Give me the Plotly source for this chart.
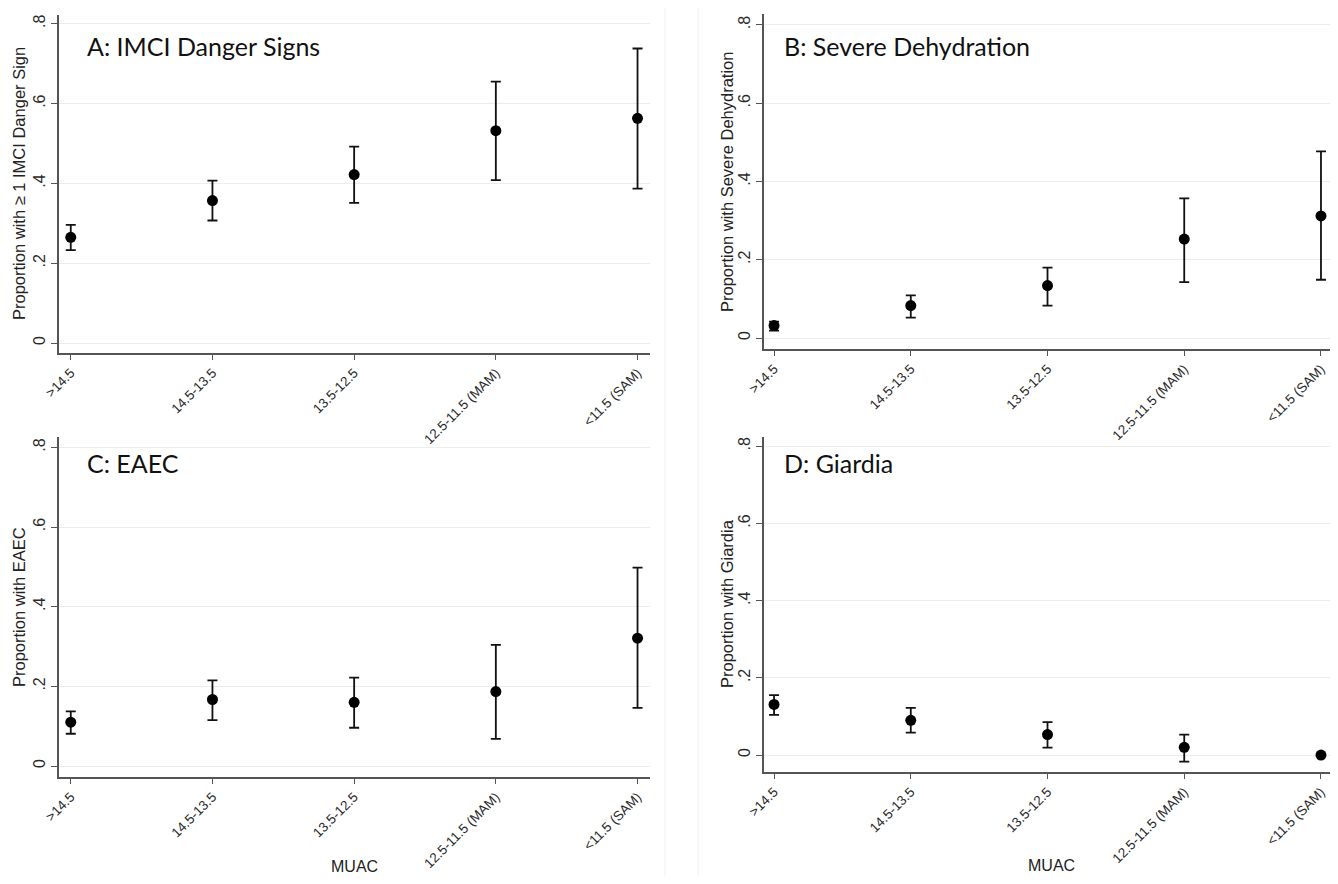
import plotly.graph_objects as go

categories = [">14.5", "14.5-13.5", "13.5-12.5", "12.5-11.5 (MAM)", "<11.5 (SAM)"]

# Panel A: IMCI danger signs
a_est = [0.265, 0.357, 0.422, 0.532, 0.563]
a_lo = [0.233, 0.307, 0.351, 0.408, 0.387]
a_hi = [0.296, 0.407, 0.492, 0.655, 0.738]

# Panel B: severe dehydration
b_est = [0.032, 0.083, 0.134, 0.253, 0.312]
b_lo = [0.019, 0.052, 0.083, 0.143, 0.149]
b_hi = [0.042, 0.109, 0.180, 0.357, 0.477]

# Panel C: EAEC
c_est = [0.110, 0.167, 0.160, 0.187, 0.321]
c_lo = [0.081, 0.115, 0.096, 0.068, 0.146]
c_hi = [0.137, 0.215, 0.222, 0.304, 0.498]

# Panel D: Giardia
d_est = [0.131, 0.090, 0.053, 0.020, 0.0]
d_lo = [0.104, 0.058, 0.019, -0.017, 0.0]
d_hi = [0.155, 0.122, 0.085, 0.053, 0.0]

y_ticks = [0, 0.2, 0.4, 0.6, 0.8]
y_ticklabels = ["0", ".2", ".4", ".6", ".8"]

panel_titles = ["A: IMCI Danger Signs", "B: Severe Dehydration", "C: EAEC", "D: Giardia"]
y_titles = ["Proportion with \u2265 1 IMCI Danger Sign", "Proportion with Severe Dehydration",
            "Proportion with EAEC", "Proportion with Giardia"]
x_title = "MUAC"

# page body has an 8px margin; keep the figure inside the viewport
OFF = 8
W, H = 1322, 868


def px(x):
    return (x - OFF) / W


def py(y):
    return 1 - (y - OFF) / H


idx = list(range(len(categories)))

panels = [
    dict(est=a_est, lo=a_lo, hi=a_hi, xd=[px(59), px(650)], yd=[py(353), py(15)],
         xr=[-0.083, 4.088], yr=[-0.025, 0.822]),
    dict(est=b_est, lo=b_lo, hi=b_hi, xd=[px(764), 1.0], yd=[py(349), py(14)],
         xr=[-0.0735, 4.066], yr=[-0.028, 0.828]),
    dict(est=c_est, lo=c_lo, hi=c_hi, xd=[px(59), px(650)], yd=[py(777), py(437)],
         xr=[-0.083, 4.088], yr=[-0.0276, 0.826]),
    dict(est=d_est, lo=d_lo, hi=d_hi, xd=[px(764), 1.0], yd=[py(772), py(437)],
         xr=[-0.0735, 4.066], yr=[-0.044, 0.824]),
]

fig = go.Figure()
layout = dict(width=W, height=H, margin=dict(l=0, r=0, t=0, b=0, autoexpand=False),
              paper_bgcolor="white", plot_bgcolor="white", showlegend=False,
              font=dict(family="Liberation Sans, Arial, sans-serif", color="#222"))

for i, p in enumerate(panels):
    n = "" if i == 0 else str(i + 1)
    plus = [h - e for h, e in zip(p["hi"], p["est"])]
    minus = [e - l for e, l in zip(p["est"], p["lo"])]
    fig.add_trace(go.Scatter(
        x=idx, y=p["est"], mode="markers", xaxis="x" + n, yaxis="y" + n,
        marker=dict(color="black", size=11),
        error_y=dict(type="data", array=plus, arrayminus=minus, color="#111",
                     thickness=1.8, width=5),
    ))
    layout["xaxis" + n] = dict(
        domain=p["xd"], anchor="y" + n, range=p["xr"], tickmode="array", automargin=False,
        tickvals=idx, ticktext=categories, tickangle=-45, showgrid=False,
        zeroline=False, showline=True, linecolor="#555", linewidth=1.6,
        ticks="outside", ticklen=5, tickcolor="#555", tickwidth=1.2,
        ticklabeloverflow="allow",
        tickfont=dict(size=13.5, color="#2a2a2a"),
    )
    layout["yaxis" + n] = dict(
        domain=p["yd"], anchor="x" + n, range=p["yr"], tickmode="array", automargin=False,
        tickvals=y_ticks, ticktext=y_ticklabels, tickangle=-90,
        showgrid=True, gridcolor="#ececec", gridwidth=1, zeroline=False,
        showline=True, linecolor="#555", linewidth=1.6,
        ticks="outside", ticklen=6, tickcolor="#555", tickwidth=1.2,
        ticklabeloverflow="allow",
        tickfont=dict(size=16, color="#2a2a2a"),
    )

fig.update_layout(**layout)

# panel titles
title_pos = [(85, 46), (782, 46), (85, 463), (782, 463)]
for t, (x0, y0) in zip(panel_titles, title_pos):
    fig.add_annotation(text=t, xref="paper", yref="paper", x=px(x0), y=py(y0),
                       xanchor="left", yanchor="middle", showarrow=False,
                       font=dict(family="Lato, Open Sans, sans-serif", size=25, color="#111"))

# y-axis titles
ytitle_pos = [(19, 184), (727, 182), (19, 607), (727, 604)]
for t, (x0, y0) in zip(y_titles, ytitle_pos):
    fig.add_annotation(text=t, xref="paper", yref="paper", x=px(x0), y=py(y0),
                       xanchor="center", yanchor="middle", textangle=-90, showarrow=False,
                       font=dict(size=16.5, color="#222"))

# x-axis titles
for x0, y0 in [(354, 866), (1051, 865)]:
    fig.add_annotation(text=x_title, xref="paper", yref="paper", x=px(x0), y=py(y0),
                       xanchor="center", yanchor="middle", showarrow=False,
                       font=dict(size=16, color="#222"))

# faint panel separators
for x0 in [665, 698]:
    fig.add_shape(type="line", xref="paper", yref="paper", x0=px(x0), x1=px(x0), y0=0, y1=1,
                  line=dict(color="#f0f0f0", width=1), layer="below")

fig.write_html("out.html")
